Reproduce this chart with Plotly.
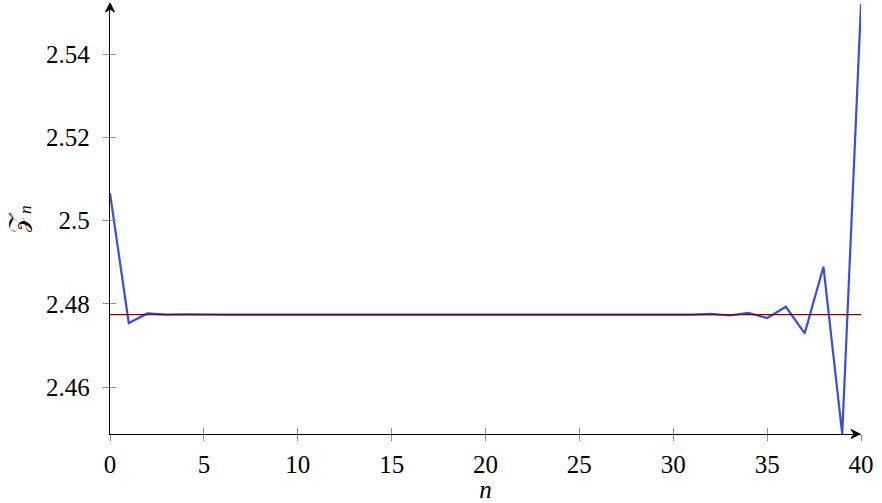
import plotly.graph_objects as go

# Sequence values Z_n for n = 0..40
n_values = list(range(41))
z_values = [
    2.5066, 2.4754, 2.4777, 2.4774, 2.4775, 2.4774, 2.4774, 2.4774, 2.4774, 2.4774,
    2.4774, 2.4774, 2.4774, 2.4774, 2.4774, 2.4774, 2.4774, 2.4774, 2.4774, 2.4774,
    2.4774, 2.4774, 2.4774, 2.4774, 2.4774, 2.4774, 2.4774, 2.4774, 2.4774, 2.4774,
    2.4775, 2.4774, 2.4776, 2.4772, 2.4778, 2.4766, 2.4793, 2.4729, 2.4889, 2.4487,
    2.5521,
]
limit_value = 2.4774

x_ticks = [0, 5, 10, 15, 20, 25, 30, 35, 40]
y_ticks = [2.46, 2.48, 2.50, 2.52, 2.54]
y_tick_text = ["2.46", "2.48", "2.5", "2.52", "2.54"]

x_range = [0, 40]
y_range = [2.4487, 2.5521]

FONT = "Liberation Serif"
TICK_GREY = "#8c8c8c"

fig = go.Figure()

fig.add_trace(go.Scatter(
    x=n_values, y=z_values, mode="lines",
    line=dict(color="#3a4fd2", width=2.2),
    showlegend=False,
))
fig.add_trace(go.Scatter(
    x=[x_range[0], x_range[1]], y=[limit_value, limit_value], mode="lines",
    line=dict(color="#800000", width=1.2),
    showlegend=False,
))
# invisible trace so the overlay axes (inner tick halves) are drawn
fig.add_trace(go.Scatter(
    x=[x_range[0]], y=[y_range[0]], xaxis="x2", yaxis="y2",
    mode="markers", marker=dict(opacity=0), showlegend=False, hoverinfo="skip",
))

fig.update_layout(
    width=882, height=503,
    margin=dict(l=110, r=21, t=4, b=69),
    paper_bgcolor="white", plot_bgcolor="white",
    font=dict(family=FONT, size=25, color="black"),
    xaxis=dict(
        range=x_range, tickvals=x_ticks, ticks="outside", ticklen=6,
        tickcolor=TICK_GREY, tickwidth=1, showgrid=False, zeroline=False,
        showline=True, linecolor="black", linewidth=1.3, automargin=False,
        title=dict(text="<i>n</i>", standoff=4, font=dict(size=25)),
        ticklabelstandoff=2,
    ),
    yaxis=dict(
        range=y_range, tickvals=y_ticks, ticktext=y_tick_text, ticks="outside",
        ticklen=6, tickcolor=TICK_GREY, tickwidth=1, showgrid=False,
        zeroline=False, showline=True, linecolor="black", linewidth=1.3,
        automargin=False,
        title=dict(text="𝒵<sub><i>n</i></sub>", standoff=12, font=dict(size=25)),
        ticklabelstandoff=8,
    ),
    xaxis2=dict(
        overlaying="x", range=x_range, tickvals=x_ticks, ticks="inside",
        ticklen=6, tickcolor=TICK_GREY, tickwidth=1, showticklabels=False,
        showgrid=False, zeroline=False, showline=False, side="bottom",
        automargin=False,
    ),
    yaxis2=dict(
        overlaying="y", range=y_range, tickvals=y_ticks, ticks="inside",
        ticklen=6, tickcolor=TICK_GREY, tickwidth=1, showticklabels=False,
        showgrid=False, zeroline=False, showline=False, side="left",
        automargin=False,
    ),
)

# stealth-style arrow heads at the ends of both axes (pixel-sized paths)
arrow_style = dict(
    type="path", xref="paper", yref="paper", xsizemode="pixel", ysizemode="pixel",
    fillcolor="black", line=dict(color="black", width=1), layer="above",
)
fig.add_shape(**arrow_style, xanchor=0, yanchor=1,
              path="M0,1 L-4.5,-8 L0,-5 L4.5,-8 Z")
fig.add_shape(**arrow_style, xanchor=1, yanchor=0,
              path="M-1,0 L-10,4.5 L-7,0 L-10,-4.5 Z")

fig.write_html("out.html")
